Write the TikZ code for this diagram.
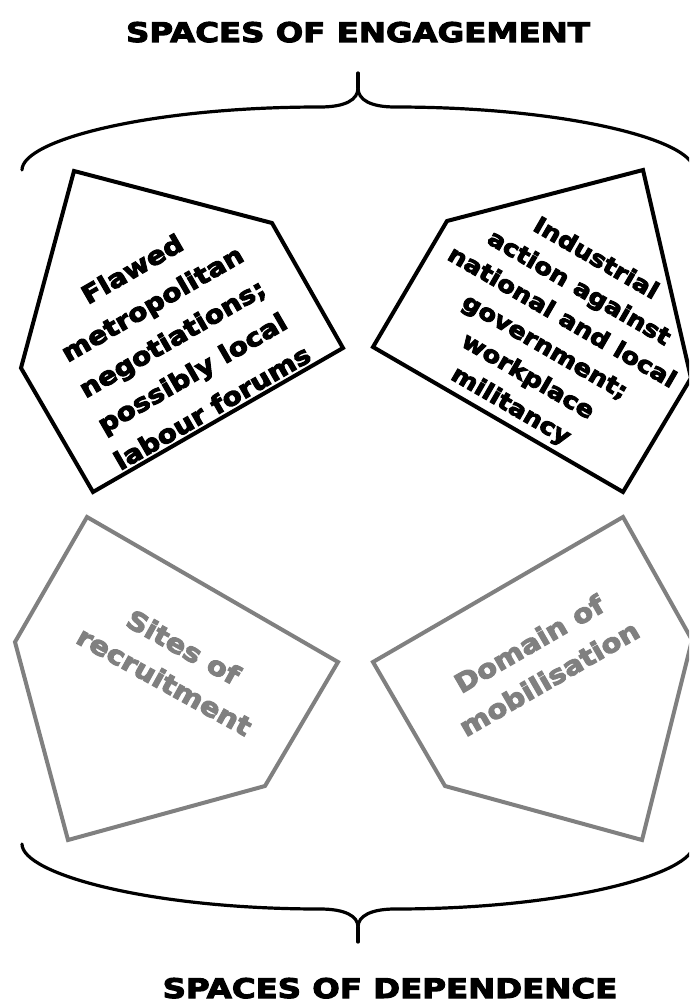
\documentclass[tikz,border=0pt]{standalone}
\usepackage{fontspec}
\newfontfamily\heavy[FakeStretch=1.12,FakeBold=4]{DejaVu Sans}
\newfontfamily\headfont[FakeStretch=1.2,FakeBold=4]{DejaVu Sans}
\definecolor{shade}{HTML}{808080}
\tikzset{
  brace/.style={line width=3.2pt, line cap=round, line join=round},
  engage/.style={draw=black, line width=4pt},
  depend/.style={draw=shade, line width=4pt},
  heading/.style={font=\headfont\bfseries\fontsize{27}{30}\selectfont, anchor=base, inner sep=0pt},
  blurb/.style={align=center, inner sep=0pt},
}
\begin{document}
\begin{tikzpicture}[x=1pt,y=-1pt]
\useasboundingbox (0,0) rectangle (689,1003);
\clip (0,0) rectangle (689,1003);

% headings
\node[heading] (ttitle) at (358,42) {SPACES OF ENGAGEMENT};
\node[heading] (btitle) at (390,998) {SPACES OF DEPENDENCE};

% upper brace
\coordinate (tl) at (22,170);
\coordinate (tc) at (358,88);
\coordinate (tt) at (358,73);
\coordinate (tr) at (694,170);
\draw[brace] (tl) .. controls (22,140) and (150,107) .. (320,107)
  .. controls (345,107) and (358,100) .. (tc)
  .. controls (358,100) and (371,107) .. (395,107)
  .. controls (566,107) and (694,140) .. (tr);
\draw[brace] (tc) -- (tt);

% lower brace
\coordinate (bl) at (22,844);
\coordinate (bc) at (358,927);
\coordinate (bt) at (358,942);
\coordinate (br) at (694,844);
\draw[brace] (bl) .. controls (22,874) and (150,909) .. (320,909)
  .. controls (345,909) and (358,916) .. (bc)
  .. controls (358,916) and (371,909) .. (395,909)
  .. controls (566,909) and (694,874) .. (br);
\draw[brace] (bc) -- (bt);

% spaces of engagement
\draw[engage] (74,171) -- (272,223) -- (343,348) -- (93,492) -- (21,368) -- cycle;
\draw[engage] (643,170) -- (691,378) -- (623,492) -- (373,347) -- (447,221) -- cycle;

% spaces of dependence
\draw[depend] (87,517) -- (338,662) -- (265,786) -- (68,840) -- (15,642) -- cycle;
\draw[depend] (623,517) -- (692,640) -- (642,840) -- (445,786) -- (373,662) -- cycle;

% labels
\node[blurb, rotate=30, font=\heavy\bfseries\fontsize{25}{40}\selectfont] (flawed) at (172,338)
  {Flawed\\metropolitan\\negotiations;\\possibly local\\labour forums};
\node[blurb, rotate=-30, font=\heavy\bfseries\fontsize{23}{34}\selectfont] (industrial) at (553,333)
  {Industrial\\action against\\national and local\\government;\\workplace\\militancy};
\node[blurb, rotate=-29, text=shade, font=\heavy\bfseries\fontsize{26}{39}\selectfont] (sites) at (174,664)
  {Sites of\\recruitment};
\node[blurb, rotate=30, text=shade, font=\heavy\bfseries\fontsize{26}{40}\selectfont] (domain) at (539,661)
  {Domain of\\mobilisation};
\end{tikzpicture}
\end{document}
